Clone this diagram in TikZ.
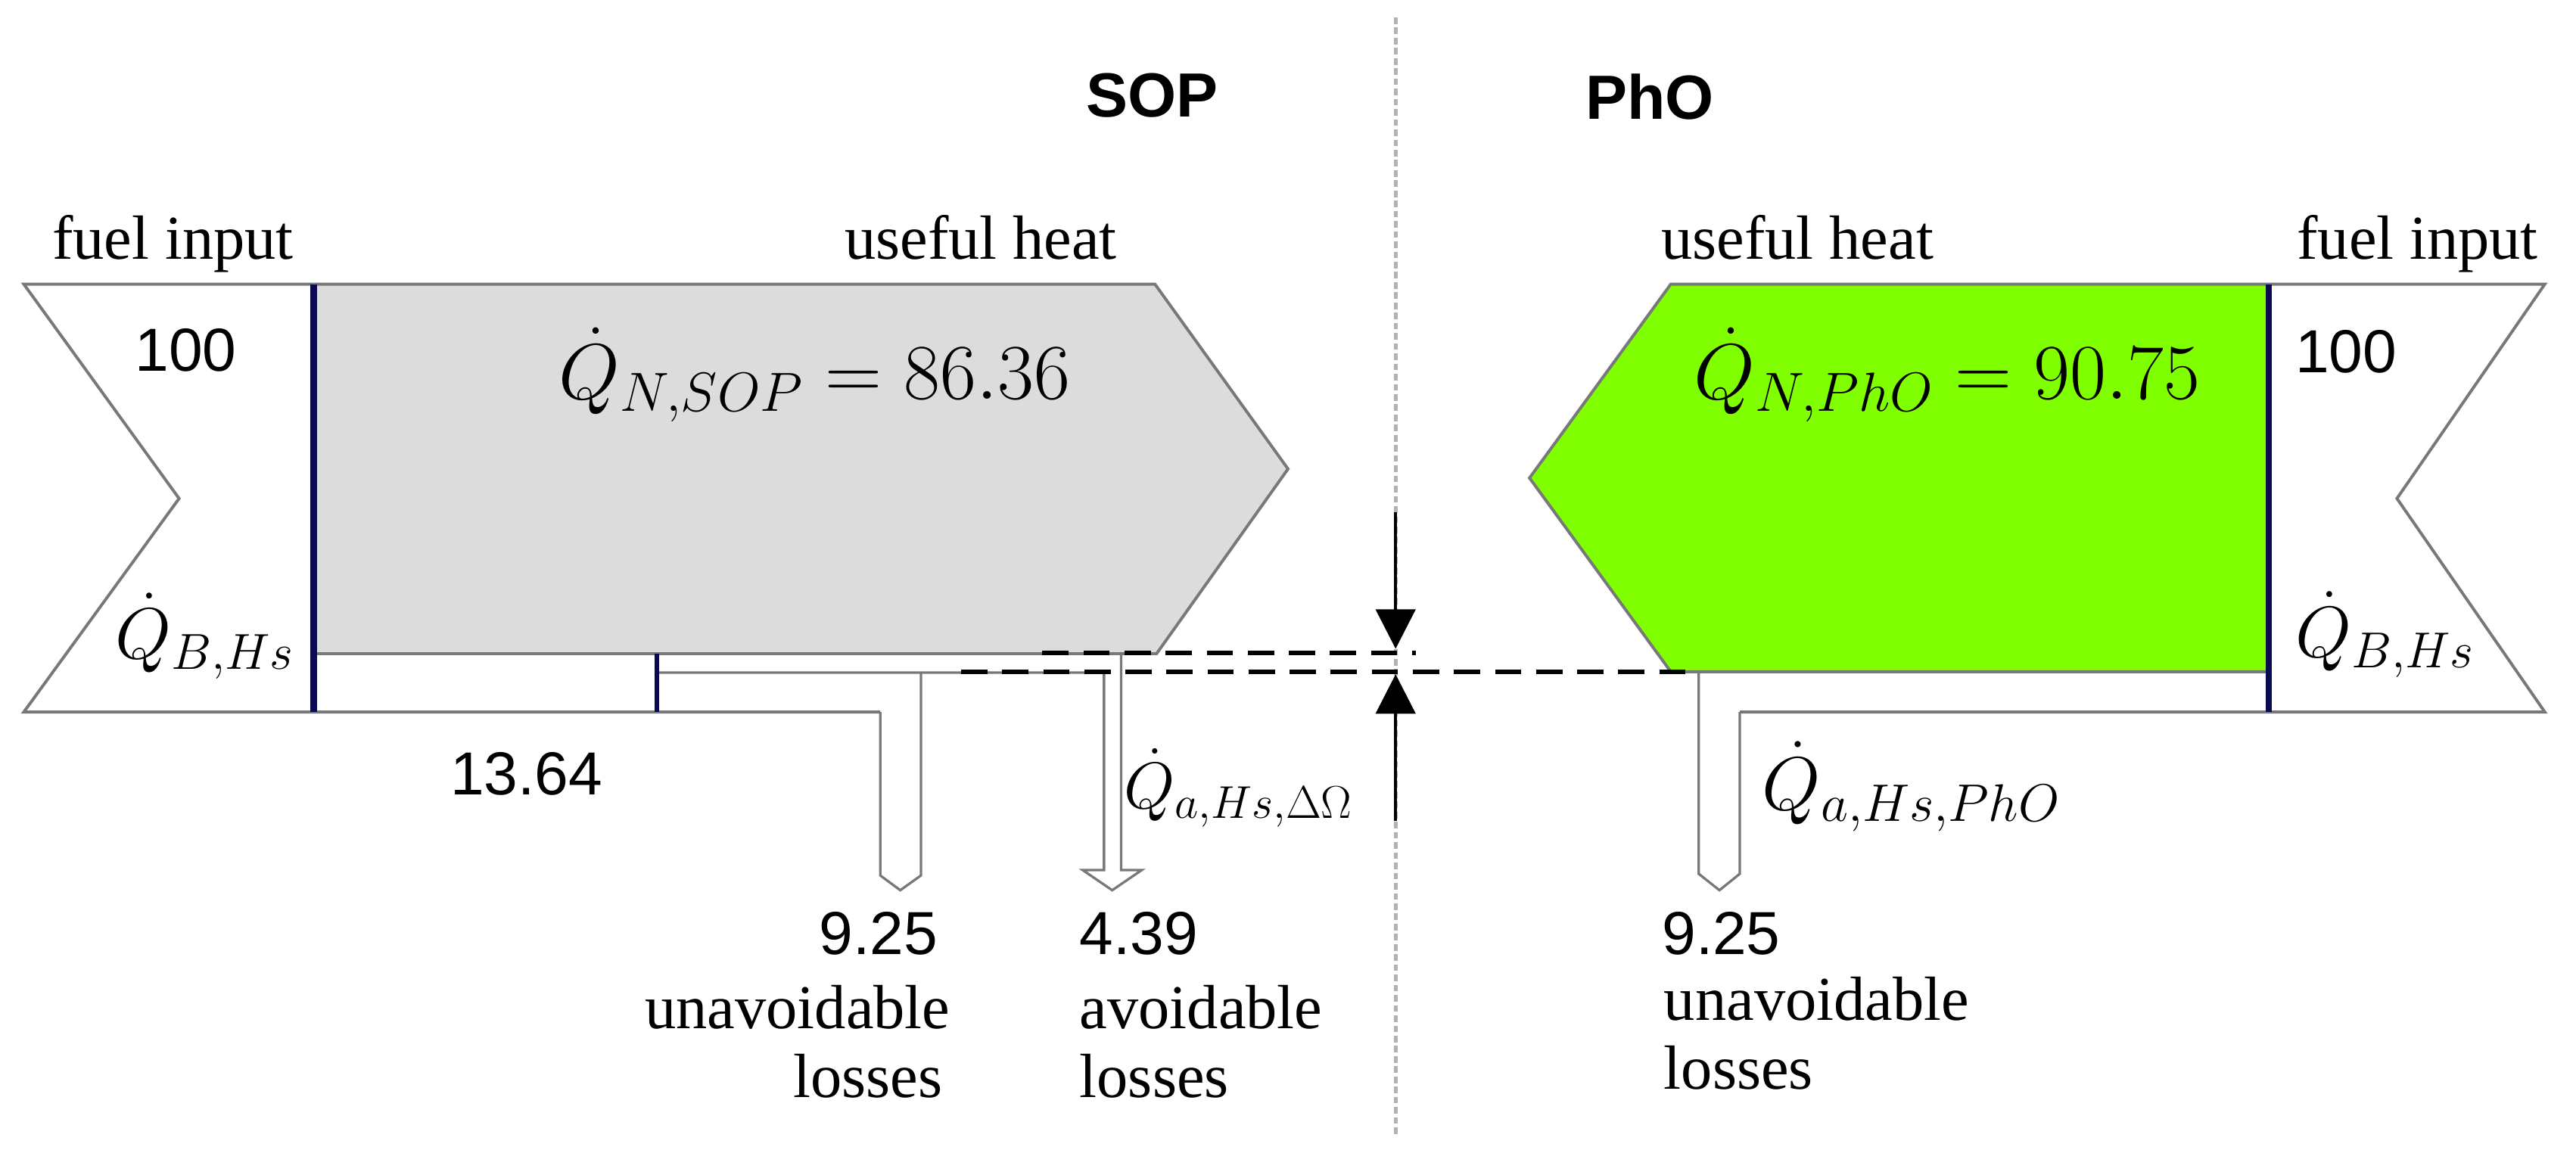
\RequirePackage{fix-cm}
\documentclass[tikz,border=0pt]{standalone}
\usepackage[no-math]{fontspec}
\setmainfont{Liberation Serif}
\newfontfamily\arialfont{Liberation Sans}
\usetikzlibrary{arrows.meta}
\definecolor{boxgray}{RGB}{220,220,220}
\definecolor{phogreen}{RGB}{128,255,0}
\definecolor{sepblue}{RGB}{10,10,80}
\definecolor{linegray}{RGB}{120,120,120}
\begin{document}
\begin{tikzpicture}[x=1pt,y=-1pt,
  outl/.style={draw=linegray,line width=1.8pt,line join=miter},
  lossl/.style={draw=linegray,line width=1.5pt,line join=miter},
  sepline/.style={draw=sepblue,line width=4pt},
  dashline/.style={draw=black,line width=2.4pt,dash pattern=on 16pt off 9pt},
  divider/.style={draw=gray!60,line width=2.3pt,dash pattern=on 4pt off 2.2pt},
  dimarrow/.style={draw=black,line width=2pt,-{Triangle[width=24pt,length=24pt]}},
  serif/.style={inner sep=0pt,font=\fontsize{38}{44}\selectfont},
  sans/.style={inner sep=0pt,font=\arialfont\fontsize{37}{44}\selectfont},
  titletext/.style={inner sep=0pt,font=\arialfont\bfseries\fontsize{38}{44}\selectfont},
  bigmath/.style={inner sep=0pt,font=\fontsize{48}{56}\selectfont},
  smallmath/.style={inner sep=0pt,font=\fontsize{44}{52}\selectfont},
]
\useasboundingbox (0,0) rectangle (1568,700);

% ---------- fills ----------
\fill[boxgray] (191,173) -- (703,173) -- (784,285.5) -- (704,398) -- (191,398) -- cycle;
\fill[phogreen] (1017,173) -- (1381,173) -- (1381,409) -- (1017,409) -- (931,291) -- cycle;

% ---------- divider ----------
\coordinate (divtop) at (849.5,10.6);
\coordinate (divbot) at (849.5,692);
\draw[divider] (divtop) -- (divbot);

% ---------- SOP side ----------
\draw[outl] (191,173) -- (14.5,173) -- (109,303.5) -- (14.5,433.5) -- (535.8,433.5);
\draw[outl] (191,173) -- (703,173) -- (784,285.5) -- (704,398) -- (191,398);
\draw[lossl] (535.8,433.5) -- (535.8,533) -- (548,542) -- (560.6,533) -- (560.6,409.5);
\draw[lossl] (400,409.5) -- (672,409.5) -- (672,529.7) -- (659,529.7) -- (677,542)
   -- (695,529.7) -- (682.4,529.7) -- (682.4,398);
\draw[sepline] (191,173) -- (191,433.5);
\draw[sepline,line width=2.8pt] (400,398) -- (400,433.5);

% ---------- PhO side ----------
\draw[outl] (1381,173) -- (1017,173) -- (931,291) -- (1017,409) -- (1381,409);
\draw[outl] (1381,173) -- (1549,173) -- (1459,303.5) -- (1549,433.5) -- (1059,433.5);
\draw[lossl] (1059,433.5) -- (1059,532) -- (1046.6,542) -- (1034,532) -- (1034,409);
\draw[sepline] (1381,173) -- (1381,433.5);

% ---------- dashed reference lines and dimension arrows ----------
\coordinate (dA1) at (634.5,397.5);
\coordinate (dA2) at (862,397.5);
\coordinate (dB1) at (585,409);
\coordinate (dB2) at (1034,409);
\draw[dashline] (dA1) -- (dA2);
\draw[dashline] (dB1) -- (dB2);
\coordinate (arrTopStart) at (849.5,312);
\coordinate (arrTopTip) at (849.5,395);
\coordinate (arrBotStart) at (849.5,500);
\coordinate (arrBotTip) at (849.5,410.5);
\draw[dimarrow] (arrTopStart) -- (arrTopTip);
\draw[dimarrow] (arrBotStart) -- (arrBotTip);

% ---------- texts ----------
\node[titletext,anchor=base west] (sopT) at (661,71.4) {SOP};
\node[titletext,anchor=base west] (phoT) at (965,72.7) {PhO};
\node[serif,anchor=base west] (fuelL) at (31.7,158) {fuel input};
\node[serif,anchor=base east] (usefulL) at (680,158) {useful heat};
\node[serif,anchor=base west] (usefulR) at (1011,158) {useful heat};
\node[serif,anchor=base west] (fuelR) at (1398,158) {fuel input};
\node[sans,anchor=base west] (hundredL) at (82,226) {100};
\node[sans,anchor=base west] (hundredR) at (1397,227) {100};
\node[smallmath,anchor=base west] (qbL) at (70,401) {$\dot{Q}_{B,Hs}$};
\node[smallmath,anchor=base west] (qbR) at (1397,400) {$\dot{Q}_{B,Hs}$};
\node[bigmath,anchor=base west] (qnSOP) at (340,243) {$\dot{Q}_{N,SOP}=86.36$};
\node[bigmath,anchor=base west] (qnPhO) at (1031,243) {$\dot{Q}_{N,PhO}=90.75$};
\node[sans,anchor=base west] (lossTot) at (274,484) {13.64};
\node[smallmath,font=\fontsize{40}{48}\selectfont,anchor=base west] (qaDelta) at (684,492) {$\dot{Q}_{a,Hs,\Delta\Omega}$};
\node[smallmath,font=\fontsize{46}{54}\selectfont,anchor=base west] (qaPhO) at (1072.5,493) {$\dot{Q}_{a,Hs,PhO}$};
\node[sans,anchor=base east] (unavValL) at (571,581) {9.25};
\node[serif,anchor=base east] (unavL1) at (578.5,626) {unavoidable};
\node[serif,anchor=base east] (unavL2) at (574,668) {losses};
\node[sans,anchor=base west] (avVal) at (657,581) {4.39};
\node[serif,anchor=base west] (avL1) at (657,626) {avoidable};
\node[serif,anchor=base west] (avL2) at (657,668) {losses};
\node[sans,anchor=base west] (unavValR) at (1011.5,581) {9.25};
\node[serif,anchor=base west] (unavR1) at (1012.7,621) {unavoidable};
\node[serif,anchor=base west] (unavR2) at (1012.7,663) {losses};
\end{tikzpicture}
\end{document}
